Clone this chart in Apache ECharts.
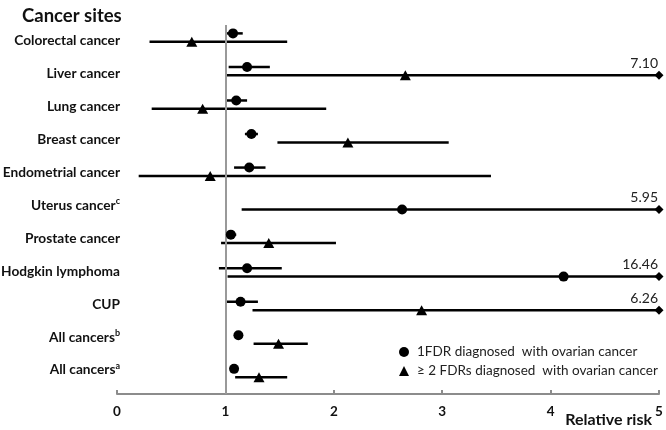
<!DOCTYPE html>
<html><head><meta charset="utf-8">
<script src="https://cdn.jsdelivr.net/npm/echarts@6/dist/echarts.min.js"></script>
<style>html,body{margin:0;padding:0;background:#fff}#c{width:666px;height:430px}</style>
</head><body><div id="c"></div>
<script>
const categories = ['Colorectal cancer','Liver cancer','Lung cancer','Breast cancer','Endometrial cancer','Uterus cancer','Prostate cancer','Hodgkin lymphoma','CUP','All cancers','All cancers'];
const superscripts = ['','','','','','c','','','','b','a'];
// first row: 1FDR diagnosed with ovarian cancer
const fdr1Est = [1.07,1.20,1.10,1.24,1.22,null,1.05,1.20,1.14,1.12,1.08];
const fdr1Lo  = [1.00,1.03,1.01,1.18,1.08,null,1.01,0.94,1.00,null,null];
const fdr1Hi  = [1.16,1.41,1.20,1.30,1.37,null,1.10,1.52,1.30,null,null];
// second row: >= 2 FDRs diagnosed with ovarian cancer
const fdr2Est = [0.69,2.66,0.79,2.13,0.86,2.63,1.40,4.12,2.81,1.49,1.31];
const fdr2Lo  = [0.30,1.00,0.32,1.48,0.20,1.15,0.96,1.02,1.25,1.26,1.09];
const fdr2Hi  = [1.57,7.10,1.93,3.06,3.45,5.95,2.02,16.46,6.26,1.76,1.57];
const secondRowMarker = ['triangle','triangle','triangle','triangle','triangle','circle','triangle','circle','triangle','triangle','triangle'];
const xTicks = [0,1,2,3,4,5];
const seriesNames = ['1FDR diagnosed  with ovarian cancer','\u2265 2 FDRs diagnosed  with ovarian cancer'];

const xMin = xTicks[0], xMax = xTicks[xTicks.length-1];
const ROW2 = 0.25;
const FONT = 'Lato';

const ciData = [];
const pts1 = [], pts2 = [];
categories.forEach((c,i)=>{
  if (fdr1Lo[i] != null) ciData.push([fdr1Lo[i], fdr1Hi[i], i]);
  if (fdr2Lo[i] != null) ciData.push([fdr2Lo[i], fdr2Hi[i], i+ROW2]);
  if (fdr1Est[i] != null) pts1.push([fdr1Est[i], i]);
  if (fdr2Est[i] != null) {
    if (secondRowMarker[i] === 'circle') pts1.push([fdr2Est[i], i+ROW2]);
    else pts2.push([fdr2Est[i], i+ROW2]);
  }
});

function ciRender(params, api){
  const lo = api.value(0), hi = api.value(1), y = api.value(2);
  const hiC = Math.min(hi, xMax);
  const p1 = api.coord([lo, y]), p2 = api.coord([hiC, y]);
  const ch = [{type:'line', shape:{x1:p1[0],y1:p1[1],x2:p2[0],y2:p2[1]}, style:{stroke:'#000', lineWidth:2.5}}];
  if (hi > xMax) {
    const d = 4.5;
    ch.push({type:'polygon', shape:{points:[[p2[0]-d,p2[1]],[p2[0],p2[1]-d],[p2[0]+d,p2[1]],[p2[0],p2[1]+d]]}, style:{fill:'#000'}});
    ch.push({type:'text', style:{text: hi.toFixed(2), x:p2[0]-1, y:p2[1]-12, align:'right', verticalAlign:'middle', font:'14px '+FONT, fill:'#222'}});
  }
  return {type:'group', children: ch};
}

const chart = echarts.init(document.getElementById('c'), null, {renderer:'canvas'});
chart.setOption({
  animation:false,
  backgroundColor:'#fff',
  title:{text:'Cancer sites', left:17, top:2, textStyle:{fontFamily:FONT, fontWeight:'bold', fontSize:18.5, color:'#111'}},
  grid:[
    {left:117, right:7, top:25, bottom:36, outerBoundsMode:'none', containLabel:false},
    {left:117, right:7, top:24.5, height:362, outerBoundsMode:'none', containLabel:false}
  ],
  xAxis:[
    {type:'value', gridIndex:0, min:xMin, max:xMax, interval:1,
     axisLine:{onZero:false, lineStyle:{color:'#8c8c8c', width:2}},
     axisTick:{inside:true, length:4, lineStyle:{color:'#8c8c8c', width:2}},
     splitLine:{show:false},
     axisLabel:{margin:11, fontFamily:FONT, fontWeight:'bold', fontSize:13.5, color:'#111'}},
    {type:'value', gridIndex:1, min:xMin, max:xMax, show:false}
  ],
  yAxis:[
    {type:'value', gridIndex:0, inverse:true, min:-0.25, max:10.75, show:false},
    {type:'category', gridIndex:1, inverse:true, data:categories,
     axisLine:{show:false}, axisTick:{show:false},
     axisLabel:{margin:-3, fontFamily:FONT, fontWeight:'bold', fontSize:13.7, color:'#111',
       formatter:(v,idx)=> superscripts[idx] ? v+'{s|'+superscripts[idx]+'}' : v,
       rich:{s:{fontFamily:FONT, fontWeight:'bold', fontSize:9, color:'#111', verticalAlign:'top', padding:[0,0,8,0]}}}}
  ],
  legend:{orient:'vertical', left:394, top:340, itemGap:5, itemWidth:10, itemHeight:10,
    textStyle:{fontFamily:FONT, fontSize:13.5, color:'#222', padding:[0,0,0,3]},
    data:[{name:seriesNames[0], icon:'circle'},{name:seriesNames[1], icon:'triangle'}]},
  graphic:[{type:'text', right:14, top:412, style:{text:'Relative risk', font:'bold 16px '+FONT, fill:'#111'}}],
  series:[
    {type:'custom', xAxisIndex:0, yAxisIndex:0, renderItem:ciRender, data:ciData, clip:false, silent:true, z:2,
     markLine:{silent:true, symbol:'none', label:{show:false}, lineStyle:{color:'#999', width:2, type:'solid'}, data:[{xAxis:1}]}},
    {type:'scatter', name:seriesNames[0], xAxisIndex:0, yAxisIndex:0, symbol:'circle', symbolSize:10, itemStyle:{color:'#000', opacity:1}, data:pts1, z:5},
    {type:'scatter', name:seriesNames[1], xAxisIndex:0, yAxisIndex:0, symbol:'triangle', symbolSize:[11,10], itemStyle:{color:'#000', opacity:1}, data:pts2, z:5}
  ]
});
</script></body></html>
